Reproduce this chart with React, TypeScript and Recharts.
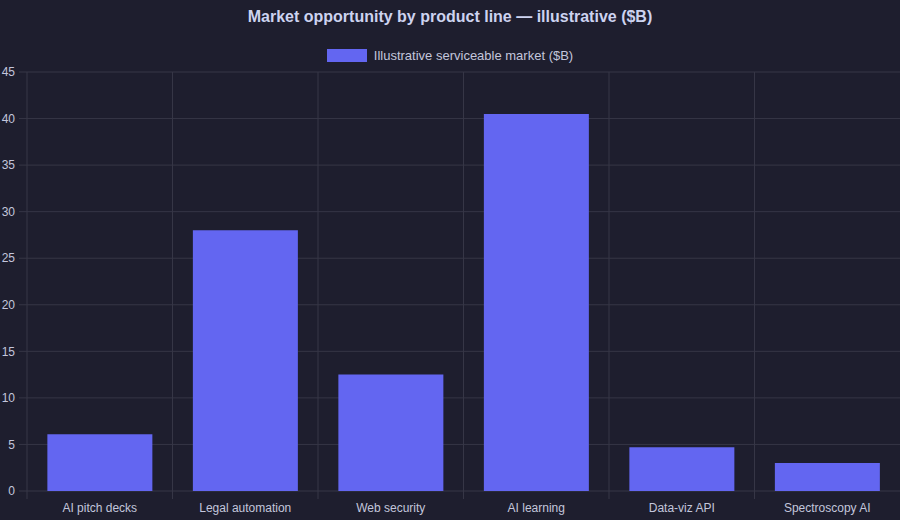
import { Bar, BarChart, CartesianGrid, XAxis, YAxis } from "recharts";

const categories = [
  "AI pitch decks",
  "Legal automation",
  "Web security",
  "AI learning",
  "Data-viz API",
  "Spectroscopy AI",
];
const marketSize = [6.1, 28, 12.5, 40.5, 4.7, 3.0];
const yTicks = [0, 5, 10, 15, 20, 25, 30, 35, 40, 45];

const data = categories.map((name, i) => ({ name, value: marketSize[i] }));

const BG = "#1e1e2e";
const GRID = "#363646";
const TEXT = "#c3c6dc";
const TITLE = "#cdd3f0";
const BAR = "#6366f1";
const FONT = "'Liberation Sans', Arial, sans-serif";

const W = 900;
const H = 520;
const LEFT = 27;

// category ticks with Chart.js-style boundary tick marks
const XTick = (props: any) => {
  const { x, y, payload } = props;
  const half = (W - LEFT) / categories.length / 2;
  return (
    <g>
      <line x1={x - half} x2={x - half} y1={y} y2={y + 8} stroke={GRID} />
      <text x={x} y={y + 21} textAnchor="middle" fill={TEXT} fontSize={12} fontFamily={FONT}>
        {payload.value}
      </text>
    </g>
  );
};

export default function App() {
  return (
    <div style={{ position: "absolute", left: 0, top: 0, width: W, height: H, background: BG, fontFamily: FONT }}>
      <div
        style={{
          position: "absolute",
          top: 8,
          left: 0,
          width: W,
          textAlign: "center",
          color: TITLE,
          fontSize: 16,
          fontWeight: "bold",
          lineHeight: "18px",
        }}
      >
        Market opportunity by product line — illustrative ($B)
      </div>
      <div
        style={{
          position: "absolute",
          top: 47,
          left: 0,
          width: W,
          display: "flex",
          justifyContent: "center",
          alignItems: "center",
          color: TEXT,
          fontSize: 13,
          lineHeight: "17px",
        }}
      >
        <span style={{ display: "inline-block", width: 40, height: 13, background: BAR, marginRight: 7 }} />
        <span>Illustrative serviceable market ($B)</span>
      </div>
      <BarChart
        width={W}
        height={H}
        data={data}
        margin={{ top: 72, right: 0, left: 0, bottom: 0 }}
        barCategoryGap="14%"
      >
        <CartesianGrid
          stroke={GRID}
          verticalCoordinatesGenerator={({ offset }: any) =>
            categories.map((_, i) => offset.left + (i * offset.width) / categories.length)
          }
        />
        <XAxis
          dataKey="name"
          height={29}
          axisLine={false}
          tickLine={false}
          tickSize={0}
          tickMargin={0}
          interval={0}
          tick={<XTick />}
        />
        <YAxis
          width={LEFT}
          domain={[0, 45]}
          ticks={yTicks}
          interval={0}
          axisLine={false}
          tickSize={8}
          tickMargin={4}
          tickLine={{ stroke: GRID }}
          tick={{ fill: TEXT, fontSize: 12, fontFamily: FONT }}
        />
        <Bar dataKey="value" fill={BAR} isAnimationActive={false} />
      </BarChart>
    </div>
  );
}
